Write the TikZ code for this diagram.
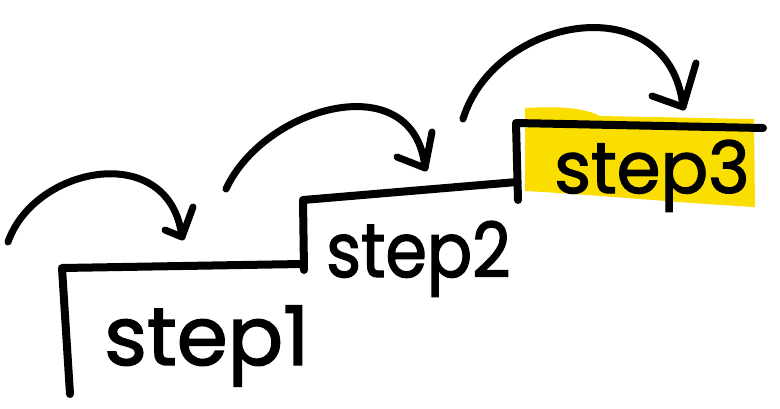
\documentclass[tikz,border=0pt]{standalone}
\usepackage{fontspec}
\setmainfont{Poppins}
\newfontfamily\handfont{Poppins}[FakeBold=1.8]
\definecolor{hl}{RGB}{250,222,0}
\begin{document}
\begin{tikzpicture}[x=1pt,y=-1pt,
  stair/.style={line width=8pt,line cap=round,line join=round},
  jump/.style={line width=7pt,line cap=round,line join=round},
  label/.style={inner sep=0pt,anchor=base west}]
\useasboundingbox[fill=white] (0,0) rectangle (780,408);
% highlight
\fill[hl] (525,108) .. controls (560,106) and (585,108) .. (600,116)
  -- (754,119) -- (755,207) .. controls (680,203) and (600,195) .. (525,191) -- cycle;
% coordinates
\coordinate (s1bot) at (70,394);
\coordinate (s1top) at (62,268);
\coordinate (s1end) at (302,264);
\coordinate (r1bot) at (304,270);
\coordinate (r1top) at (303,200);
\coordinate (s2end) at (517,182);
\coordinate (r2bot) at (518,200);
\coordinate (r2top) at (516,123);
\coordinate (s3end) at (763,128);
% stairs
\draw[stair] (s1bot) -- (s1top) -- (s1end);
\draw[stair] (r1bot) -- (r1top) -- (s2end);
\draw[stair] (r2bot) -- (r2top) -- (s3end);
% texts
\node[label] (t1) at (104,365) {\handfont\fontsize{82}{82}\selectfont step1};
\node[label] (t2) at (326,277) {\scalebox{0.88}[1]{\handfont\fontsize{76}{76}\selectfont step2}};
\node[label] (t3) at (554,193) {\scalebox{0.98}[1]{\handfont\fontsize{72}{72}\selectfont step3}};
% arrows
\coordinate (a1s) at (8,242);
\coordinate (a1t) at (182,237);
\coordinate (a1u) at (193,207);
\coordinate (a1l) at (165,230);
\draw[jump] (a1s) .. controls (35,165) and (170,140) .. (a1t);
\draw[jump] (a1u) -- (a1t) -- (a1l);
\coordinate (a2s) at (226,189);
\coordinate (a2t) at (425,168);
\coordinate (a2u) at (432,132);
\coordinate (a2l) at (397,157);
\draw[jump] (a2s) .. controls (265,105) and (415,65) .. (a2t);
\draw[jump] (a2u) -- (a2t) -- (a2l);
\coordinate (a3s) at (463,119);
\coordinate (a3t) at (683,107);
\coordinate (a3u) at (696,63);
\coordinate (a3l) at (652,96);
\draw[jump] (a3s) .. controls (495,15) and (670,-15) .. (a3t);
\draw[jump] (a3u) -- (a3t) -- (a3l);
\end{tikzpicture}
\end{document}
